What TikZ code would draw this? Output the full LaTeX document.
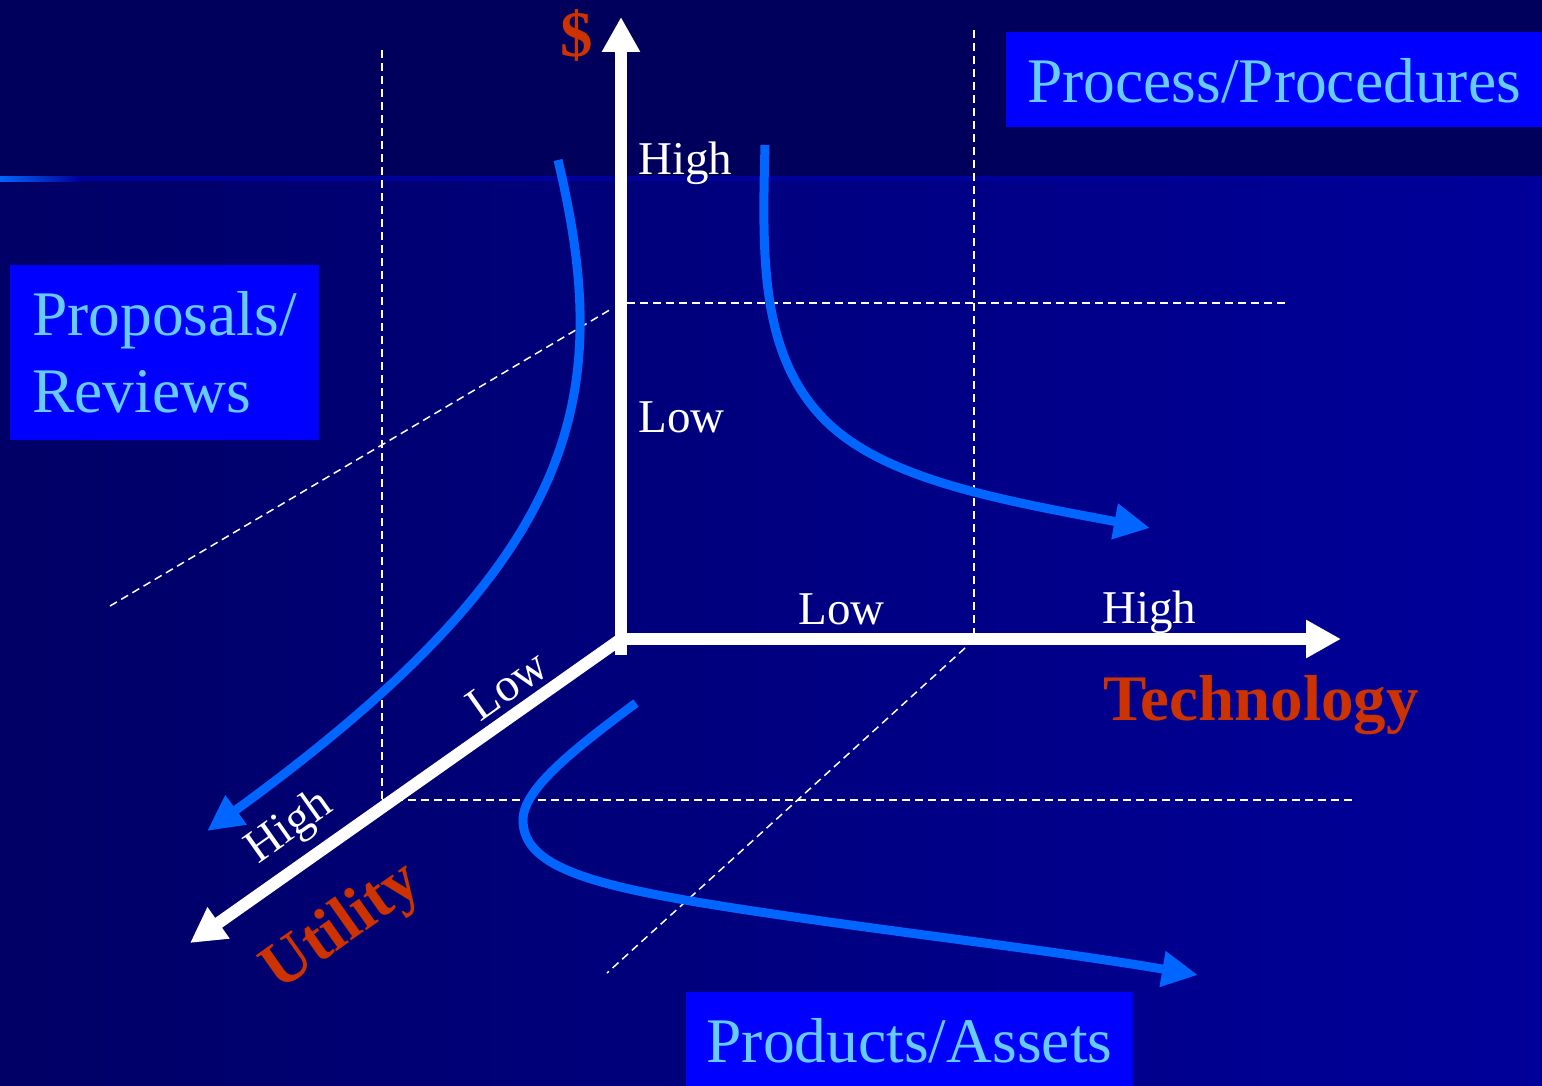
\documentclass[tikz,border=0pt]{standalone}
\usepackage{fontspec}
\setmainfont{Liberation Serif}
\usetikzlibrary{arrows.meta}
\definecolor{topbg}{HTML}{00005C}
\definecolor{bgleft}{HTML}{000066}
\definecolor{bgright}{HTML}{00009A}
\definecolor{rulebright}{HTML}{0066FF}
\definecolor{flow}{HTML}{0066FF}
\definecolor{boxblue}{HTML}{0000FF}
\definecolor{boxtext}{HTML}{66CCFF}
\definecolor{axisred}{HTML}{CC3300}

\begin{document}
\begin{tikzpicture}[x=0.5pt,y=-0.5pt,
  axis/.style={white, line width=6pt, -{Triangle[length=17.5pt,width=18pt]}},
  flowline/.style={flow, line width=4.5pt, -{Triangle[length=18pt,width=17pt]}},
  guide/.style={white, line width=0.75pt, dash pattern=on 4pt off 2.5pt},
  tag/.style={fill=boxblue, text=boxtext, font=\fontsize{31.75}{38.5}\selectfont, inner sep=0pt},
  tick/.style={text=white, font=\fontsize{23.5}{28}\selectfont, inner sep=0pt},
  axlabel/.style={text=axisred, font=\fontsize{32.5}{38}\selectfont\bfseries, inner sep=0pt}]

% background: dark header band, shaded body, thin rule between them
\useasboundingbox (0,0) rectangle (1542,1086);
\fill[topbg] (0,0) rectangle (1542,176);
\shade[left color=bgleft, right color=bgright] (0,176) rectangle (1542,1086);
\shade[left color=rulebright, right color=bgright] (0,176) rectangle (80,181);
\fill[bgright] (80,176) rectangle (1542,181);

% dashed guide grid
\draw[guide] (382,50) -- (382,800);
\draw[guide] (974,30) -- (974,635);
\draw[guide] (627,303) -- (1287,303);
\draw[guide] (382,800) -- (1355,800);
\draw[guide] (110,606) -- (613,308);
\draw[guide] (965,648) -- (607,973);

% trend curves
\draw[flowline] (558,160) .. controls (615,400) and (580,560) .. (207,831);
\draw[flowline] (765,145) .. controls (762,260) and (760,360) .. (830,425)
  .. controls (890,480) and (1000,500) .. (1150,528);
\draw[flowline] (636,703) .. controls (570,752) and (523,790) .. (523,820)
  .. controls (523,870) and (600,888) .. (760,912)
  .. controls (900,933) and (1050,950) .. (1198,975);

% axes
\coordinate (O) at (621,639);
\coordinate (ybase) at (621,655);
\coordinate (ytip) at (621,17);
\coordinate (xbase) at (615,639);
\coordinate (xtip) at (1341,639);
\coordinate (ztip) at (190,943);
\draw[axis] (ybase) -- (ytip);
\draw[axis] (xbase) -- (xtip);
\draw[axis] (O) -- (ztip);

% scale labels
\node[tick, anchor=base west] (yhigh) at (638,175) {High};
\node[tick, anchor=base west] (ylow) at (638,432) {Low};
\node[tick, anchor=base west] (xlow) at (798,624) {Low};
\node[tick, anchor=base west] (xhigh) at (1102,623) {High};
\node[tick, rotate=35.3] (zlow) at (507,685) {Low};
\node[tick, rotate=35.3] (zhigh) at (290,828) {High};

% axis names
\node[axlabel] (dollar) at (577,35) {\$};
\node[axlabel, anchor=base west] (tech) at (1103,720) {Technology};
\node[axlabel, rotate=35.3] (util) at (343,928) {Utility};

% category boxes
\node[tag, minimum width=268pt, minimum height=47.5pt, text height=23.5pt, text depth=0pt]
  (procbox) at (1274,79.5) {Process/Procedures};
\node[tag, minimum width=154.5pt, minimum height=87.5pt, align=left]
  (propbox) at (164.5,352.5) {Proposals/\\Reviews};
\node[tag, minimum width=223.5pt, minimum height=47pt, text height=23pt, text depth=0pt]
  (prodbox) at (909.5,1039) {Products/Assets};
\end{tikzpicture}
\end{document}
